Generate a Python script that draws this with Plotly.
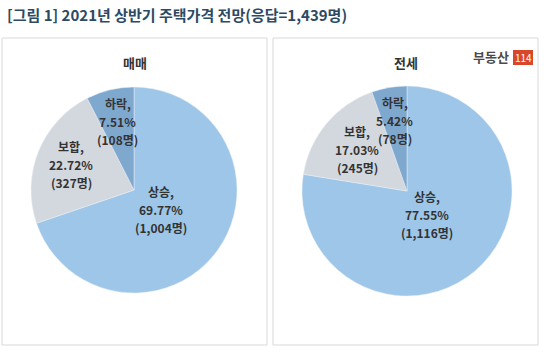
import math
import plotly.graph_objects as go

title_text = "[그림 1] 2021년 상반기 주택가격 전망(응답=1,439명)"
categories = ["상승", "보합", "하락"]
panel_titles = ["매매", "전세"]
sale_pct = [69.77, 22.72, 7.51]
sale_cnt = ["1,004", "327", "108"]
jeonse_pct = [77.55, 17.03, 5.42]
jeonse_cnt = ["1,116", "245", "78"]

colors = ["#9DC6E8", "#D3D8DE", "#7FA8CF"]
W, H = 550, 352
FONT = "Noto Sans CJK KR"

# pie geometry (px): center x, center y (from top), radius, label radius fractions
pies = [
    dict(pct=sale_pct, cnt=sale_cnt, title=panel_titles[0], cx=134, cy=190, r=103,
         frac=[0.32, 0.66, 0.68], box=(2, 267)),
    dict(pct=jeonse_pct, cnt=jeonse_cnt, title=panel_titles[1], cx=407, cy=191, r=105,
         frac=[0.30, 0.62, 0.68], box=(273, 538)),
]


def ann(x, y, text, size, color, xanchor="center", bold=True):
    return dict(x=x / W, y=1 - y / H, xref="paper", yref="paper", showarrow=False,
                xanchor=xanchor, yanchor="middle", align="center",
                text=f"<b>{text}</b>" if bold else text,
                font=dict(family=FONT, size=size, color=color))


fig = go.Figure()
annotations = []
shapes = []
LINE = 18
for p in pies:
    cx, cy, r = p["cx"], p["cy"], p["r"]
    fig.add_trace(go.Pie(
        labels=categories, values=p["pct"], sort=False, direction="clockwise",
        rotation=0, textinfo="none", hoverinfo="label+percent",
        marker=dict(colors=colors, line=dict(color="#E8EEF4", width=0.5)),
        domain=dict(x=[(cx - r) / W, (cx + r) / W],
                    y=[(H - cy - r) / H, (H - cy + r) / H]),
        showlegend=False,
    ))
    cum = 0.0
    total = sum(p["pct"])
    for i, (cat, v, c) in enumerate(zip(categories, p["pct"], p["cnt"])):
        mid = (cum + v / 2) / total * 2 * math.pi
        cum += v
        d = p["frac"][i] * r
        x = cx + d * math.sin(mid)
        y = cy - d * math.cos(mid)
        lines = [f"{cat},", f"{v:.2f}%", f"({c}명)"]
        for k, t in enumerate(lines):
            annotations.append(ann(x, y + (k - 1) * LINE, t, 12, "#333333"))
    # panel title
    annotations.append(ann((p["box"][0] + p["box"][1]) / 2, 63, p["title"], 13, "#333333"))
    shapes.append(dict(type="rect", xref="paper", yref="paper",
                       x0=p["box"][0] / W, x1=p["box"][1] / W,
                       y0=1 - 345 / H, y1=1 - 38 / H,
                       line=dict(color="#D9D9D9", width=1), fillcolor="rgba(0,0,0,0)"))

# title
annotations.append(ann(5, 15, title_text, 15, "#2E4A62", xanchor="left"))
# logo
annotations.append(ann(511, 57, "부동산", 13, "#4A4A4A", xanchor="right"))
shapes.append(dict(type="rect", xref="paper", yref="paper", layer="below",
                   x0=513 / W, x1=533 / W, y0=1 - 65 / H, y1=1 - 50 / H,
                   line=dict(width=0), fillcolor="#D9472B"))
annotations.append(ann(523, 57.5, "114", 10, "white", bold=False))

fig.update_layout(
    width=W, height=H, margin=dict(l=0, r=0, t=0, b=0),
    paper_bgcolor="white", plot_bgcolor="white",
    annotations=annotations, shapes=shapes,
)
fig.write_html("out.html")
